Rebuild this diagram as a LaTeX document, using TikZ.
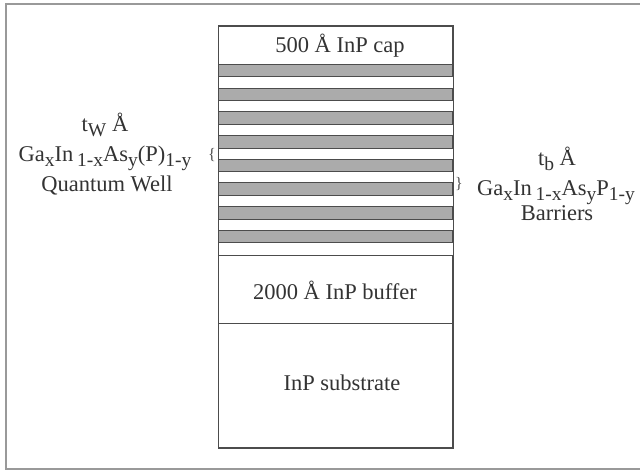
\documentclass[tikz,border=0pt]{standalone}
\usepackage{fontspec}
\setmainfont{Liberation Serif}
\newcommand{\lo}[1]{\raisebox{-0.45ex}{\fontsize{19.5}{19.5}\selectfont #1}}

\begin{document}
\begin{tikzpicture}[x=1pt,y=-1pt]
\tikzset{layer/.style={draw=black!70, line width=1pt, fill=white, inner sep=0pt,
        minimum width=234pt, anchor=north west},
    band/.style={layer, fill=black!33, minimum height=12.5pt},
    txt/.style={text=black!80, anchor=base, inner sep=0pt,
        font=\fontsize{22.5}{27}\selectfont},
    brace/.style={text=black!70, inner sep=0pt, font=\fontsize{16}{16}\selectfont}}
\useasboundingbox (0,0) rectangle (640,470);
% frame, open on the right
\draw[black!40, line width=1.5pt] (640,4) -- (6,4) -- (6,469) -- (640,469);
% the layer stack
\node[layer, minimum height=38pt] (cap) at (218,26) {};
\node[txt] (capt) at (340,53) {500 Å InP cap};
\foreach \i in {1,...,8}
    \node[band] (w\i) at (218,{64+23.7*(\i-1)}) {};
\node[layer, minimum height=68pt] (buf) at (218,255) {};
\node[txt] (buft) at (335,300) {2000 Å InP buffer};
\node[layer, minimum height=124pt] (sub) at (218,323) {};
\node[txt] (subt) at (342,390) {InP substrate};
\draw[black!70, line width=1pt] (cap.north west) rectangle (sub.south east);
% quantum well
\node[txt] (tw) at (105,132) {t\lo{W} Å};
\node[txt] (gaw) at (105,162) {Ga\lo{x}In\,\lo{1-x}As\lo{y}(P)\lo{1-y}};
\node[txt] (qw) at (107,192) {Quantum Well};
\node[brace] (bw) at (212,155) {\{};
% barriers
\node[txt] (tb) at (557,166) {t\lo{b} Å};
\node[txt] (gab) at (556,196) {Ga\lo{x}In\,\lo{1-x}As\lo{y}P\lo{1-y}};
\node[txt] (bar) at (557,221) {Barriers};
\node[brace] (bb) at (459,184) {\}};
\end{tikzpicture}
\end{document}
